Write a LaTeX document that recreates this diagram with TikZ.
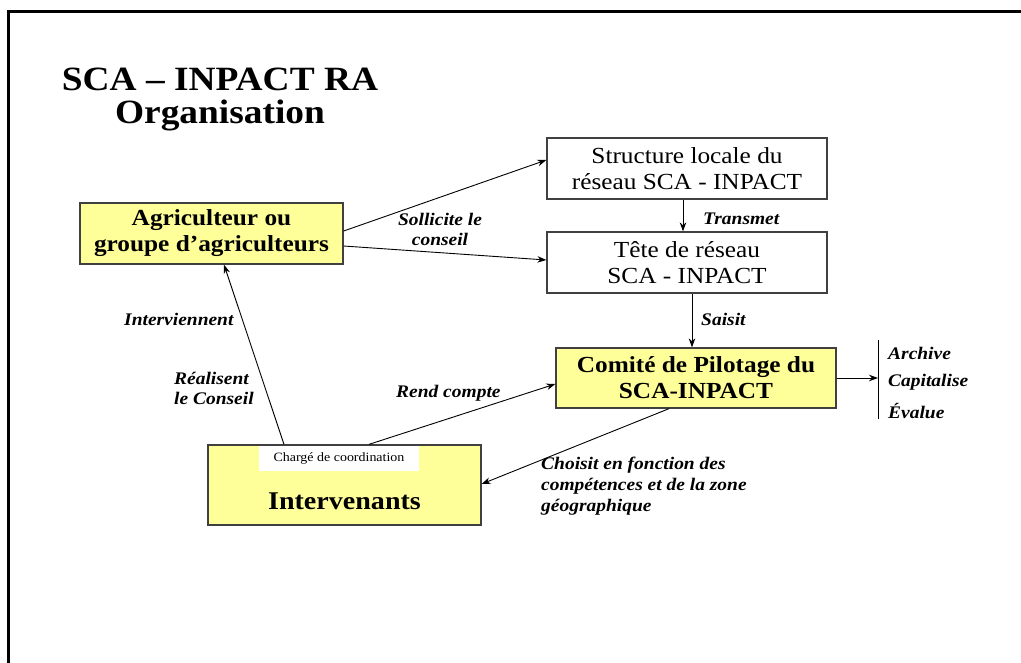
\documentclass[tikz,border=0pt]{standalone}
\usepackage{fontspec}
\setmainfont[FakeStretch=1.1]{Liberation Serif}
\usetikzlibrary{arrows.meta,calc}
\definecolor{boxyellow}{HTML}{FFFF99}
\definecolor{boxline}{HTML}{404040}
\tikzset{
  ybox/.style={draw=boxline, line width=1.3pt, fill=boxyellow, inner sep=0pt, align=center,
    font=\fontsize{23}{26}\selectfont\bfseries},
  wbox/.style={draw=boxline, line width=1.3pt, fill=white, inner sep=0pt, align=center,
    font=\fontsize{23}{26}\selectfont},
  lbl/.style={inner sep=0pt, font=\fontsize{17.7}{20}\selectfont\bfseries\itshape},
  conn/.style={line width=0.9pt, -{Stealth[length=9pt,width=6.5pt]}},
}
\begin{document}
\begin{tikzpicture}[x=1pt,y=-1pt]
\useasboundingbox (0,0) rectangle (1021,662);
% frame
\draw[line width=2.7pt] (1025,11.3) -- (8.5,11.3) -- (8.5,666);
% title
\node[align=center, inner sep=0pt, font=\fontsize{34}{33}\selectfont\bfseries] (title) at (220,99)
  {SCA -- INPACT RA\\Organisation};
% boxes
\node[ybox, minimum width=263pt, minimum height=61pt] (agri) at (211.5,233.5)
  {Agriculteur ou\\groupe d'agriculteurs};
\node[wbox, minimum width=280pt, minimum height=61pt] (struct) at (687,168.5)
  {Structure locale du\\réseau SCA - INPACT};
\node[wbox, minimum width=280pt, minimum height=61pt] (tete) at (687,262.5)
  {Tête de réseau\\SCA - INPACT};
\node[ybox, minimum width=280pt, minimum height=60pt] (comite) at (696,378)
  {Comité de Pilotage du\\SCA-INPACT};
\node[ybox, minimum width=273pt, minimum height=80pt] (interv) at (344.5,485) {};
\node[fill=white, inner sep=0pt, minimum width=160pt, minimum height=25pt,
  font=\fontsize{12.7}{14}\selectfont] (coord) at (339,458.5) {Chargé de coordination};
\node[inner sep=0pt, font=\fontsize{25.5}{28}\selectfont\bfseries] (intervtxt) at (344.5,501) {Intervenants};
% bar on the right
\coordinate (barTop) at (878,340);
\coordinate (barBot) at (878,419);
\draw[line width=0.9pt] (barTop) -- (barBot);
% connectors
\draw[conn] ([yshift=2.5pt]agri.east) -- ([yshift=8.5pt]struct.west);
\draw[conn] ([yshift=-12.5pt]agri.east) -- ([yshift=2.5pt]tete.west);
\draw[conn] ([xshift=-4pt]struct.south) -- ([xshift=-4pt]tete.north);
\draw[conn] ([xshift=5pt]tete.south) -- ([xshift=5pt]tete.south |- comite.north);
\draw[conn] (comite.east) -- (comite.east -| barTop);
\draw[conn] ([xshift=24.5pt]interv.north) -- ([yshift=-6pt]comite.west);
\draw[conn] ([xshift=-27pt]comite.south) -- ([yshift=1pt]interv.east);
\draw[conn] ([xshift=-60.5pt]interv.north) -- ([xshift=12.5pt]agri.south);
% labels
\node[lbl, align=center] (sollicite) at (440,229) {Sollicite le\\conseil};
\node[lbl, anchor=west] (transmet) at (703,219) {Transmet};
\node[lbl, anchor=west] (saisit) at (701,319) {Saisit};
\node[lbl, anchor=west] (intervien) at (124,319) {Interviennent};
\node[lbl, anchor=west, align=left] (realisent) at (174,388) {Réalisent\\le Conseil};
\node[lbl, anchor=west] (rend) at (396,393) {Rend compte};
\node[lbl, anchor=west, align=left, font=\fontsize{17.7}{21}\selectfont\bfseries\itshape] (choisit) at (541,486)
  {Choisit en fonction des\\compétences et de la zone\\géographique};
\node[lbl, anchor=west] (archive) at (888,353) {Archive};
\node[lbl, anchor=west] (capital) at (888,382) {Capitalise};
\node[lbl, anchor=west] (evalue) at (888,411) {Évalue};
\end{tikzpicture}
\end{document}
